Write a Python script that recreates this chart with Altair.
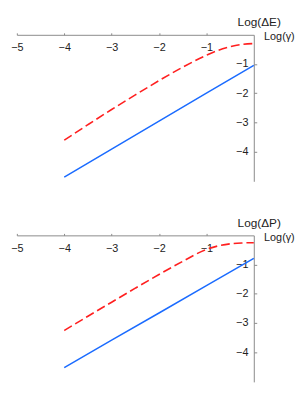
import altair as alt
import pandas as pd

# x positions (Log gamma)
x_blue = [-4, -3, -2, -1, 0]
x_red = [-4, -3.5, -3, -2.5, -2, -1.5, -1, -0.75, -0.5, -0.25, 0]

# top panel: Log(ΔE)
top_blue = [-4.88, -3.92, -2.96, -2.0, -1.045]
top_red = [-3.61, -3.08, -2.56, -2.06, -1.57, -1.11, -0.70, -0.53, -0.41, -0.33, -0.30]

# bottom panel: Log(ΔP)
bot_blue = [-4.53, -3.59, -2.66, -1.72, -0.79]
bot_red = [-3.26, -2.77, -2.29, -1.81, -1.34, -0.89, -0.48, -0.36, -0.29, -0.26, -0.25]

x_ticks = [-5, -4, -3, -2, -1]
y_ticks = [-1, -2, -3, -4]

W, H = 241, 149
FONT = "Liberation Sans"
AX = "#8a8a8a"
TXT = "#222222"


def panel(blue, red, ytitle):
    df = pd.concat([
        pd.DataFrame({"x": x_blue, "y": blue, "s": "blue"}),
        pd.DataFrame({"x": x_red, "y": red, "s": "red"}),
    ])
    xenc = alt.X(
        "x:Q",
        scale=alt.Scale(domain=[-5, 0], nice=False, zero=False),
        axis=alt.Axis(
            orient="top", values=x_ticks, tickSize=2, labelPadding=-9,
            labelBaseline="top", labelFlush=False, labelOverlap=False,
            grid=False, domainColor=AX, tickColor=AX, labelColor=TXT,
            labelFont=FONT, labelFontSize=11,
            title="Log(γ)", titleX=W + 10, titleY=2, titleAlign="left",
            titleBaseline="middle", titleAngle=0, titleFont=FONT,
            titleFontSize=11, titleFontWeight="normal", titleColor=TXT,
        ),
    )
    yenc = alt.Y(
        "y:Q",
        scale=alt.Scale(domain=[-5.02, 0], nice=False, zero=False),
        axis=alt.Axis(
            orient="right", values=y_ticks, tickSize=3, labelPadding=-9,
            labelAlign="right", labelBaseline="middle", labelOverlap=False,
            grid=False, domainColor=AX, tickColor=AX, labelColor=TXT,
            labelFont=FONT, labelFontSize=11,
            title=ytitle, titleX=5, titleY=-9, titleAlign="center",
            titleBaseline="alphabetic", titleAngle=0, titleFont=FONT,
            titleFontSize=12, titleFontWeight="normal", titleColor=TXT,
        ),
    )
    base = alt.Chart(df)
    b = base.transform_filter(alt.datum.s == "blue").mark_line(
        color="#1a6bff", strokeWidth=1.5).encode(x=xenc, y=yenc)
    r = base.transform_filter(alt.datum.s == "red").mark_line(
        color="#ff1f1f", strokeWidth=1.6, strokeDash=[9, 4],
        interpolate="monotone").encode(x=xenc, y=yenc)
    return alt.layer(b, r).properties(width=W, height=H)


chart = alt.vconcat(
    panel(top_blue, top_red, "Log(ΔE)"),
    panel(bot_blue, bot_red, "Log(ΔP)"),
    spacing=36,
).properties(
    padding={"left": 2, "top": 5, "right": 5, "bottom": 5}
).configure_view(strokeWidth=0)

chart.save("out.html", embed_options={"renderer": "svg", "actions": False})
